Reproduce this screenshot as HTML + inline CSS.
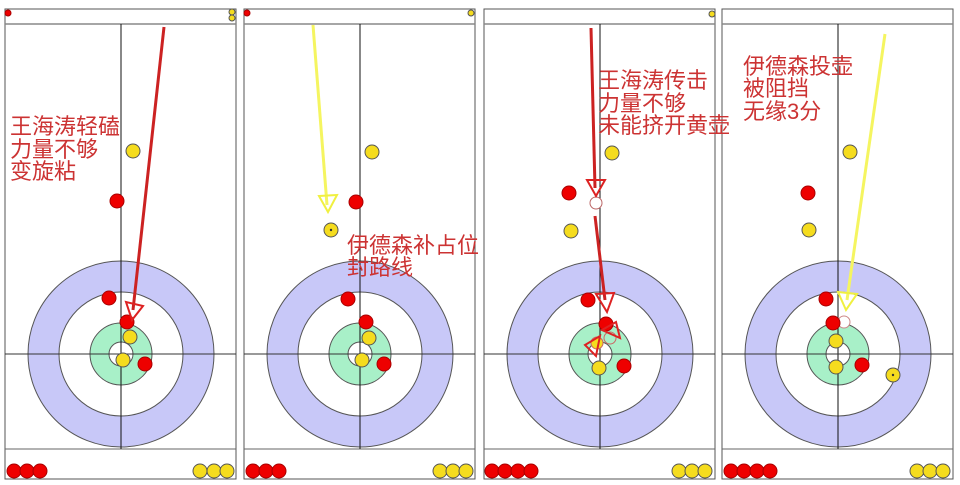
<!DOCTYPE html>
<html><head><meta charset="utf-8"><style>
html,body{margin:0;padding:0;background:#fff;width:960px;height:485px;overflow:hidden}
svg{display:block}
text{font-family:"Liberation Sans","Noto Sans CJK SC","WenQuanYi Zen Hei",sans-serif;fill:#cc3333;font-size:22px}
</style></head><body>
<svg width="960" height="485" viewBox="0 0 960 485" xmlns="http://www.w3.org/2000/svg">
<defs>
<g id="sheet">
  <rect x="0" y="0" width="231" height="470" fill="#fff" stroke="#555" stroke-width="1"/>
  <line x1="0" y1="15" x2="231" y2="15" stroke="#888" stroke-width="1.5"/>
  <line x1="0" y1="440" x2="231" y2="440" stroke="#666" stroke-width="1"/>
  <circle cx="116" cy="345" r="93" fill="#c8c8f8" stroke="#555" stroke-width="1"/>
  <circle cx="116" cy="345" r="62" fill="#fff" stroke="#555" stroke-width="1"/>
  <circle cx="116" cy="345" r="31" fill="#a8f0c8" stroke="#555" stroke-width="1"/>
  <circle cx="116" cy="345" r="12" fill="#fff" stroke="#555" stroke-width="1"/>
  <line x1="116" y1="15" x2="116" y2="440" stroke="#111" stroke-width="1"/>
  <line x1="0" y1="345" x2="231" y2="345" stroke="#333" stroke-width="1"/>
</g>
</defs>
<style>.r{fill:#e00;stroke:#a00;stroke-width:1}.y{fill:#f5dc1e;stroke:#555;stroke-width:1}</style>

<!-- Panel 1 -->
<g transform="translate(5,9)"><use href="#sheet"/></g>
<circle class="r" cx="8" cy="13" r="3"/>
<circle class="y" cx="232" cy="12" r="3"/><circle class="y" cx="232" cy="18" r="3"/>
<text x="10" y="134">王海涛轻磕</text><text x="10" y="157">力量不够</text><text x="10" y="179">变旋粘</text>
<circle class="y" cx="133" cy="151" r="7"/>
<circle class="r" cx="117" cy="201" r="7"/>
<circle class="r" cx="109" cy="298" r="7"/>
<circle class="r" cx="127" cy="322" r="7" fill="#c00"/>
<circle class="y" cx="130" cy="337" r="7"/>
<circle class="y" cx="123" cy="360" r="7"/>
<circle class="r" cx="145" cy="364" r="7"/>
<line x1="164" y1="27" x2="133" y2="310" stroke="#cc2222" stroke-width="3"/>
<polygon points="126,302 143,306 132,320" fill="none" stroke="#dd2222" stroke-width="2"/>
<circle class="r" cx="14" cy="471" r="7"/><circle class="r" cx="27" cy="471" r="7"/><circle class="r" cx="40" cy="471" r="7"/>
<circle class="y" cx="200" cy="471" r="7"/><circle class="y" cx="214" cy="471" r="7"/><circle class="y" cx="227" cy="471" r="7"/>

<!-- Panel 2 -->
<g transform="translate(244,9)"><use href="#sheet"/></g>
<circle class="r" cx="247" cy="13" r="3"/>
<circle class="y" cx="471" cy="13" r="3"/>
<circle class="y" cx="372" cy="152" r="7"/>
<circle class="r" cx="356" cy="202" r="7"/>
<circle class="y" cx="331" cy="230" r="7"/><circle cx="331" cy="230" r="1.2" fill="#333"/>
<line x1="313" y1="25" x2="327" y2="205" stroke="#f5f560" stroke-width="3"/>
<polygon points="319,196 337,195 328,212" fill="none" stroke="#f0f040" stroke-width="2"/>
<circle class="r" cx="348" cy="299" r="7"/>
<circle class="r" cx="366" cy="322" r="7"/>
<circle class="y" cx="369" cy="338" r="7"/>
<circle class="y" cx="362" cy="360" r="7"/>
<circle class="r" cx="384" cy="364" r="7"/>
<circle class="r" cx="253" cy="471" r="7"/><circle class="r" cx="266" cy="471" r="7"/><circle class="r" cx="279" cy="471" r="7"/>
<circle class="y" cx="440" cy="471" r="7"/><circle class="y" cx="453" cy="471" r="7"/><circle class="y" cx="466" cy="471" r="7"/>

<!-- Panel 3 -->
<g transform="translate(484,9)"><use href="#sheet"/></g>
<circle class="y" cx="712" cy="14" r="3"/>
<circle class="y" cx="612" cy="153" r="7"/>
<circle class="r" cx="569" cy="193" r="7" fill="#c00"/>
<circle cx="596" cy="203" r="6" fill="#fff" stroke="#b66" stroke-width="1"/>
<circle class="y" cx="571" cy="231" r="7"/>
<line x1="591" y1="28" x2="595" y2="188" stroke="#cc2222" stroke-width="3"/>
<polygon points="587,180 605,180 596,196" fill="none" stroke="#dd2222" stroke-width="2"/>
<line x1="595" y1="216" x2="605" y2="300" stroke="#cc2222" stroke-width="3"/>
<polygon points="596,294 614,293 607,312" fill="none" stroke="#dd2222" stroke-width="2"/>
<circle class="r" cx="588" cy="300" r="7"/>
<circle class="r" cx="606" cy="324" r="7"/>
<circle cx="610" cy="338" r="6" fill="none" stroke="#c66" stroke-width="1"/>
<polygon points="602,330 616,322 620,338" fill="none" stroke="#dd2222" stroke-width="2"/>
<circle cx="597" cy="343" r="6" fill="#f5dc1e" stroke="#c66" stroke-width="1"/>
<polygon points="585,345 600,336 596,356" fill="none" stroke="#dd2222" stroke-width="2"/>
<circle class="y" cx="599" cy="368" r="7"/>
<circle class="r" cx="624" cy="366" r="7"/>
<circle class="r" cx="492" cy="471" r="7"/><circle class="r" cx="505" cy="471" r="7"/><circle class="r" cx="518" cy="471" r="7"/><circle class="r" cx="531" cy="471" r="7"/>
<circle class="y" cx="679" cy="471" r="7"/><circle class="y" cx="692" cy="471" r="7"/><circle class="y" cx="705" cy="471" r="7"/>

<!-- Panel 4 -->
<g transform="translate(722,9)"><use href="#sheet"/></g>
<text x="743" y="74">伊德森投壶</text><text x="743" y="96">被阻挡</text><text x="743" y="119">无缘3分</text>
<circle class="y" cx="850" cy="152" r="7"/>
<circle class="r" cx="808" cy="193" r="7"/>
<circle class="y" cx="809" cy="230" r="7"/>
<line x1="885" y1="34" x2="847" y2="300" stroke="#f5f560" stroke-width="3"/>
<polygon points="838,292 857,294 846,310" fill="none" stroke="#f0f040" stroke-width="2"/>
<circle class="r" cx="826" cy="299" r="7"/>
<circle cx="844" cy="322" r="6" fill="#fff" stroke="#c88" stroke-width="1"/>
<circle class="r" cx="833" cy="323" r="7"/>
<circle class="y" cx="836" cy="341" r="7"/>
<circle class="y" cx="836" cy="367" r="7"/>
<circle class="r" cx="862" cy="365" r="7"/>
<circle class="y" cx="893" cy="375" r="7"/><circle cx="893" cy="375" r="1.2" fill="#333"/>
<circle class="r" cx="731" cy="471" r="7"/><circle class="r" cx="744" cy="471" r="7"/><circle class="r" cx="757" cy="471" r="7"/><circle class="r" cx="770" cy="471" r="7"/>
<circle class="y" cx="917" cy="471" r="7"/><circle class="y" cx="930" cy="471" r="7"/><circle class="y" cx="943" cy="471" r="7"/>

<!-- Overlapping labels drawn last -->
<text x="347" y="253">伊德森补占位</text><text x="347" y="275">封路线</text>
<text x="598" y="88">王海涛传击</text><text x="598" y="111">力量不够</text><text x="598" y="133">未能挤开黄壶</text>
</svg>
</body></html>
